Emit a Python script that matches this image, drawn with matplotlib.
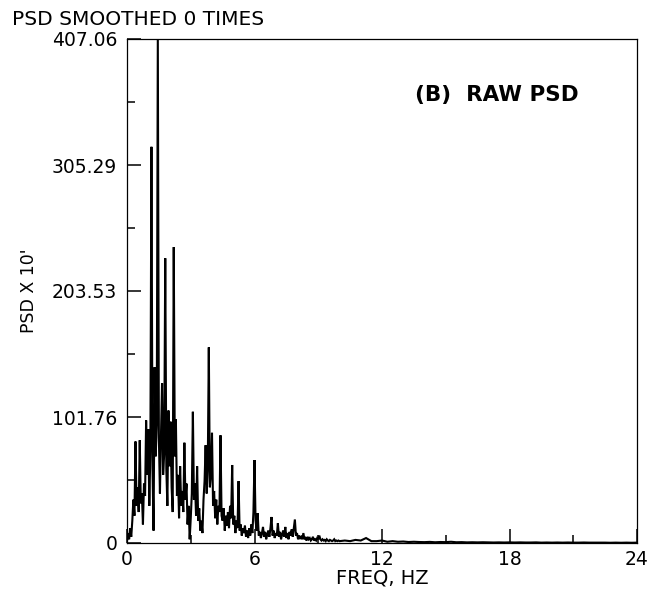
import numpy as np
import matplotlib
matplotlib.use('Agg')
import matplotlib.pyplot as plt

plt.rcParams['font.family'] = ['DejaVu Sans']

# raw PSD, 0.05 Hz bins from 0 to 10 Hz
psd_low = [
    2, 8, 3, 12, 5, 18, 35, 22, 82, 30,
    45, 25, 83, 32, 40, 15, 48, 38, 99, 55,
    92, 30, 75, 320, 60, 10, 142, 70, 95, 407,
    85, 40, 88, 129, 55, 72, 230, 60, 30, 107,
    62, 98, 45, 25, 239, 70, 100, 38, 55, 20,
    62, 30, 42, 25, 81, 35, 48, 15, 30, 3,
    20, 40, 106, 35, 48, 22, 62, 18, 28, 10,
    18, 8, 35, 50, 79, 40, 60, 158, 45, 55,
    89, 30, 42, 20, 35, 15, 30, 25, 87, 22,
    18, 28, 10, 22, 14, 25, 12, 30, 20, 63,
    15, 22, 8, 18, 12, 50, 10, 15, 6, 12,
    8, 14, 5, 10, 4, 12, 6, 15, 8, 25,
    67, 18, 10, 24, 6, 9, 4, 8, 13, 5,
    9, 3, 7, 10, 5, 12, 21, 6, 10, 4,
    8, 6, 16, 5, 9, 3, 7, 10, 5, 13,
    4, 8, 3, 9, 6, 11, 5, 12, 19, 6,
    8, 3, 6, 4, 5, 3, 8, 3, 4, 2,
    5, 3, 4, 2, 3, 5, 2, 3, 2, 4,
    3, 6, 3, 2, 3, 2, 2.5, 1.5, 3, 2,
    1.5, 2.5, 2, 1.5, 2, 3, 1.5, 2, 1.5, 2,
    1.5,
]
# tail, 0.25 Hz steps from 10.25 to 24 Hz
psd_tail = [
    2, 1.5, 2.5, 2, 4, 1.5, 1.5, 2, 1, 1.5,
    1, 1.2, 0.8, 1, 0.8, 0.7, 0.9, 0.6, 0.8, 0.7,
    1, 0.6, 0.7, 0.5, 0.6, 0.5, 0.6, 0.5, 0.4, 0.5,
    0.4, 0.5, 0.4, 0.5, 0.4, 0.4, 0.5, 0.3, 0.4, 0.3,
    0.4, 0.3, 0.4, 0.3, 0.3, 0.4, 0.3, 0.3, 0.3, 0.3,
    0.2, 0.3, 0.2, 0.3, 0.2, 0.3,
]

xticks = [0, 6, 12, 18, 24]
xticks_minor = [3, 9, 15, 21]
yticks = [0, 101.76, 203.53, 305.29, 407.06]
ytick_labels = ['0', '101.76', '203.53', '305.29', '407.06']

freq_low = 0.05 * np.arange(len(psd_low))
freq_tail = 10.25 + 0.25 * np.arange(len(psd_tail))
freq = np.concatenate([freq_low, freq_tail])
psd = np.concatenate([psd_low, psd_tail])

fig = plt.figure(figsize=(6.49, 5.96), dpi=100)
ax = fig.add_axes([127/649, 1 - 543/596, 510/649, 504/596])

ax.plot(freq, psd, color='black', linewidth=1.5, solid_joinstyle='miter')

ax.set_xlim(0, 24)
ax.set_ylim(0, 407.06)

ax.set_xticks(xticks)
ax.set_xticks(xticks_minor, minor=True)
ax.set_xticklabels([str(t) for t in xticks])
ax.set_yticks(yticks)
ax.set_yticklabels(ytick_labels)
ax.set_yticks([(a + b) / 2 for a, b in zip(yticks[:-1], yticks[1:])], minor=True)

ax.tick_params(which='major', direction='in', length=10, width=1.1,
               labelsize=13.5, color='black')
ax.tick_params(which='minor', direction='in', length=6, width=1.1, color='black')
ax.tick_params(axis='y', which='major', pad=7)
ax.tick_params(axis='x', which='major', pad=5)

for sp in ax.spines.values():
    sp.set_linewidth(0.9)
    sp.set_color('black')

ax.set_xlabel('FREQ, HZ', fontsize=14, labelpad=0)
ax.set_ylabel("PSD X 10'", fontsize=12.5, labelpad=10)

ax.text(13.55, 361.8, '(B)  RAW PSD', fontsize=15.5, fontweight='bold',
        ha='left', va='center')

fig.text(12/649, 1 - 25/596, 'PSD SMOOTHED 0 TIMES', fontsize=14.5,
         ha='left', va='baseline')

fig.savefig('out.png', dpi=100)
